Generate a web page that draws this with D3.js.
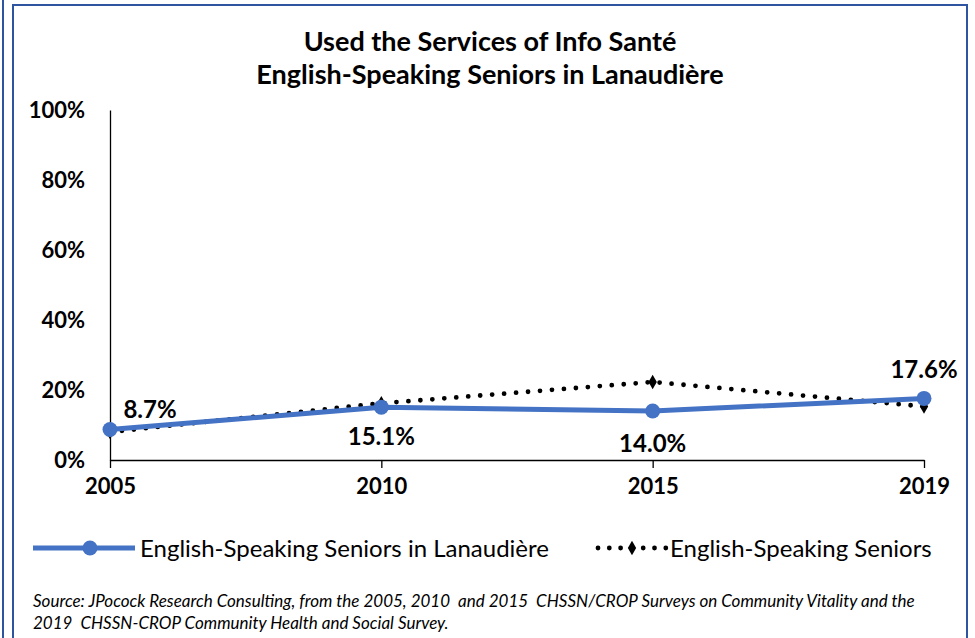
<!DOCTYPE html>
<html>
<head>
<meta charset="utf-8">
<script src="https://cdn.jsdelivr.net/npm/d3@7"></script>
<style>
  html, body { margin: 0; padding: 0; background: #fff; }
  svg { display: block; font-family: Lato, "Open Sans", sans-serif; }
</style>
</head>
<body>
<svg width="975" height="638"></svg>
<script>
var years = ["2005", "2010", "2015", "2019"];
var lanaudiere = [8.7, 15.1, 14.0, 17.6];
var seniors = [8.0, 16.2, 22.3, 15.3];
var yTicks = [0, 20, 40, 60, 80, 100];
var titleLines = ["Used the Services of Info Santé", "English-Speaking Seniors in Lanaudière"];
var seriesNames = ["English-Speaking Seniors in Lanaudière", "English-Speaking Seniors"];
var sourceLines = [
  "Source: JPocock Research Consulting, from the 2005, 2010  and 2015  CHSSN/CROP Surveys on Community Vitality and the",
  "2019  CHSSN-CROP Community Health and Social Survey."
];

var blue = "#4472c4";
var svg = d3.select("svg");

// outer frame
svg.append("line").attr("x1", 3).attr("x2", 3).attr("y1", 0).attr("y2", 638)
    .attr("stroke", "#2f55a0").attr("stroke-width", 2);
svg.append("rect").attr("x", 13).attr("y", 5).attr("width", 954).attr("height", 640)
    .attr("fill", "#fff").attr("stroke", "#2f55a0").attr("stroke-width", 2);

var margin = {top: 110, left: 110},
    width = 924 - 110,
    height = 460 - 110,
    g = svg.append("g").attr("transform", "translate(" + margin.left + "," + margin.top + ")");

var x = d3.scalePoint().domain(years).range([0, width]);
var y = d3.scaleLinear().domain([0, 100]).range([height, 0]);

// title
svg.append("g").selectAll("text").data(titleLines).enter().append("text")
    .attr("x", 490)
    .attr("y", function(d, i) { return 51 + i * 33; })
    .attr("text-anchor", "middle")
    .attr("font-size", "27px")
    .attr("font-weight", "bold")
    .attr("fill", "#000")
    .text(function(d) { return d; });

// y axis
var yAxis = g.append("g")
    .call(d3.axisLeft(y).tickValues(yTicks).tickSize(0).tickPadding(25)
      .tickFormat(function(d) { return d + "%"; }));
yAxis.select(".domain").attr("stroke", "#000").attr("stroke-width", 1.3);
yAxis.selectAll("text").attr("font-size", "22px").attr("font-weight", "bold")
    .attr("font-family", "Lato, sans-serif").attr("fill", "#000");

// x axis
var xAxis = g.append("g")
    .attr("transform", "translate(0," + height + ")")
    .call(d3.axisBottom(x).tickSizeInner(8).tickSizeOuter(0).tickPadding(10));
xAxis.select(".domain").attr("stroke", "#000").attr("stroke-width", 1.3);
xAxis.selectAll(".tick line").attr("stroke", "#000").attr("stroke-width", 1.3);
xAxis.selectAll("text").attr("font-size", "22px").attr("font-weight", "bold")
    .attr("font-family", "Lato, sans-serif").attr("fill", "#000");

var line = d3.line()
    .x(function(d, i) { return x(years[i]); })
    .y(function(d) { return y(d); });

// seniors dotted series
g.append("path")
    .datum(seniors)
    .attr("fill", "none")
    .attr("stroke", "#000")
    .attr("stroke-width", 4.8)
    .attr("stroke-linecap", "round")
    .attr("stroke-dasharray", "0,12")
    .attr("d", line);

var diamond = d3.symbol().type(d3.symbolDiamond).size(60);
g.selectAll(".dia").data(seniors).enter().append("path")
    .attr("class", "dia")
    .attr("transform", function(d, i) { return "translate(" + x(years[i]) + "," + y(d) + ")"; })
    .attr("d", diamond)
    .attr("fill", "#000");

// lanaudiere series
g.append("path")
    .datum(lanaudiere)
    .attr("fill", "none")
    .attr("stroke", blue)
    .attr("stroke-width", 5)
    .attr("stroke-linejoin", "round")
    .attr("d", line);

g.selectAll(".pt").data(lanaudiere).enter().append("circle")
    .attr("class", "pt")
    .attr("cx", function(d, i) { return x(years[i]); })
    .attr("cy", function(d) { return y(d); })
    .attr("r", 7.5)
    .attr("fill", blue);

// data labels
var labelOffsets = [[40, -12], [0, 38], [0, 41], [0, -20]];
g.selectAll(".lbl").data(lanaudiere).enter().append("text")
    .attr("class", "lbl")
    .attr("x", function(d, i) { return x(years[i]) + labelOffsets[i][0]; })
    .attr("y", function(d, i) { return y(d) + labelOffsets[i][1]; })
    .attr("text-anchor", "middle")
    .attr("font-size", "24px")
    .attr("font-weight", "bold")
    .attr("fill", "#000")
    .text(function(d) { return d.toFixed(1) + "%"; });

// legend
var leg = svg.append("g").attr("transform", "translate(0,548)");
leg.append("line").attr("x1", 33).attr("x2", 135).attr("y1", 0).attr("y2", 0)
    .attr("stroke", blue).attr("stroke-width", 5);
leg.append("circle").attr("cx", 90).attr("cy", 0).attr("r", 7.5).attr("fill", blue);
leg.append("text").attr("x", 140).attr("y", 9).attr("font-size", "24px")
    .attr("fill", "#000").text(seriesNames[0]);

leg.append("line").attr("x1", 598).attr("x2", 666).attr("y1", 0).attr("y2", 0)
    .attr("stroke", "#000").attr("stroke-width", 4.8).attr("stroke-linecap", "round")
    .attr("stroke-dasharray", "0,11.3");
leg.append("path").attr("transform", "translate(632,0)").attr("d", diamond).attr("fill", "#000");
leg.append("text").attr("x", 670).attr("y", 9).attr("font-size", "24px")
    .attr("fill", "#000").text(seriesNames[1]);

// source
svg.append("g").selectAll("text").data(sourceLines).enter().append("text")
    .attr("x", 33)
    .attr("y", function(d, i) { return 607 + i * 22; })
    .attr("font-size", "17px")
    .attr("font-style", "italic")
    .attr("fill", "#000")
    .style("white-space", "pre")
    .text(function(d) { return d; });
</script>
</body>
</html>
